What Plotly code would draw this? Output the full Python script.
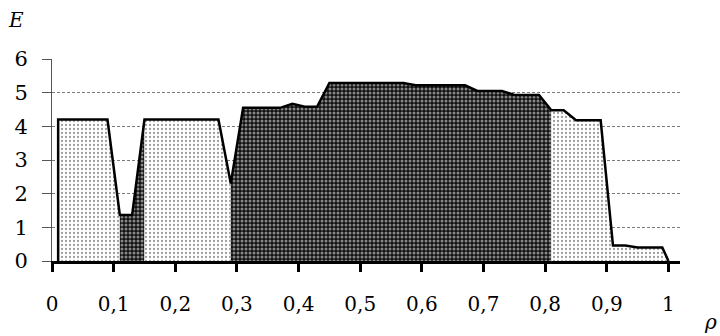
import plotly.graph_objects as go

# ---- data ----
rho = [0.01, 0.09, 0.11, 0.13, 0.15, 0.27, 0.29, 0.31, 0.37, 0.39, 0.41, 0.43,
       0.45, 0.57, 0.59, 0.67, 0.69, 0.73, 0.75, 0.79, 0.81, 0.83, 0.85, 0.89,
       0.91, 0.93, 0.95, 0.99, 1.00]
energy = [4.2, 4.2, 1.37, 1.37, 4.2, 4.2, 2.3, 4.55, 4.55, 4.67, 4.58, 4.58,
          5.29, 5.29, 5.22, 5.22, 5.05, 5.05, 4.93, 4.93, 4.48, 4.48, 4.18, 4.18,
          0.46, 0.46, 0.40, 0.40, 0.0]

# shaded regions: boundaries on rho and pattern kind of each region
region_bounds = [0.01, 0.11, 0.15, 0.29, 0.81, 1.00]
region_kind = ["light", "dark", "light", "dark", "light"]

x_tickvals = [0, 0.1, 0.2, 0.3, 0.4, 0.5, 0.6, 0.7, 0.8, 0.9, 1.0]
x_ticktext = ["0", "0,1", "0,2", "0,3", "0,4", "0,5", "0,6", "0,7", "0,8", "0,9", "1"]
y_tickvals = [0, 1, 2, 3, 4, 5, 6]

FONT = "DejaVu Serif"

patterns = {
    "light": dict(shape=".", fgcolor="#3a3a3a", bgcolor="white", size=4, solidity=0.25),
    "dark": dict(shape=".", fgcolor="white", bgcolor="#111111", size=4, solidity=0.45),
}

fig = go.Figure()

for i, kind in enumerate(region_kind):
    lo, hi = region_bounds[i], region_bounds[i + 1]
    xs = [r for r in rho if lo - 1e-9 <= r <= hi + 1e-9]
    ys = [e for r, e in zip(rho, energy) if lo - 1e-9 <= r <= hi + 1e-9]
    fig.add_trace(go.Scatter(
        x=xs, y=ys, mode="lines", fill="tozeroy",
        line=dict(width=0, color="rgba(0,0,0,0)"),
        fillcolor=patterns[kind]["bgcolor"], fillpattern=patterns[kind],
        hoverinfo="skip", showlegend=False,
    ))

# outline: left vertical edge + top curve
fig.add_trace(go.Scatter(
    x=[rho[0]] + rho, y=[0] + energy, mode="lines",
    line=dict(color="black", width=2.5), showlegend=False,
))

fig.update_layout(
    width=720, height=336,
    margin=dict(l=52, r=40, t=59, b=75, autoexpand=False),
    paper_bgcolor="white", plot_bgcolor="white",
    font=dict(family=FONT, size=20, color="black"),
    showlegend=False,
)

fig.update_xaxes(
    range=[0, 1.0187], tickvals=x_tickvals, ticktext=x_ticktext,
    showgrid=False, zeroline=False,
    showline=True, linecolor="black", linewidth=3,
    ticks="outside", ticklen=8, tickwidth=3, tickcolor="black",
    ticklabelstandoff=15,
    tickfont=dict(family=FONT, size=20, color="black"),
)
fig.update_yaxes(
    range=[0, 6], tickvals=y_tickvals,
    showgrid=True, gridcolor="#7a7a7a", gridwidth=1, griddash="3px,2px",
    zeroline=False,
    showline=True, linecolor="#555555", linewidth=1,
    ticks="outside", ticklen=9, tickwidth=1, tickcolor="#555555",
    ticklabelstandoff=10,
    tickfont=dict(family=FONT, size=21, color="black"),
)

fig.add_annotation(text="<i>E</i>", xref="paper", yref="paper",
                   x=(16 - 52) / 628, y=(261.5 - 20) / 202,
                   xanchor="center", yanchor="middle", showarrow=False,
                   font=dict(family=FONT, size=20, color="black"))
fig.add_annotation(text="<i>ρ</i>", xref="paper", yref="paper",
                   x=(710 - 52) / 628, y=(261.5 - 322) / 202,
                   xanchor="center", yanchor="middle", showarrow=False,
                   font=dict(family=FONT, size=20, color="black"))

fig.write_html("out.html", config={"displayModeBar": False},
               post_script="document.body.style.margin='0';document.body.style.padding='0';")
